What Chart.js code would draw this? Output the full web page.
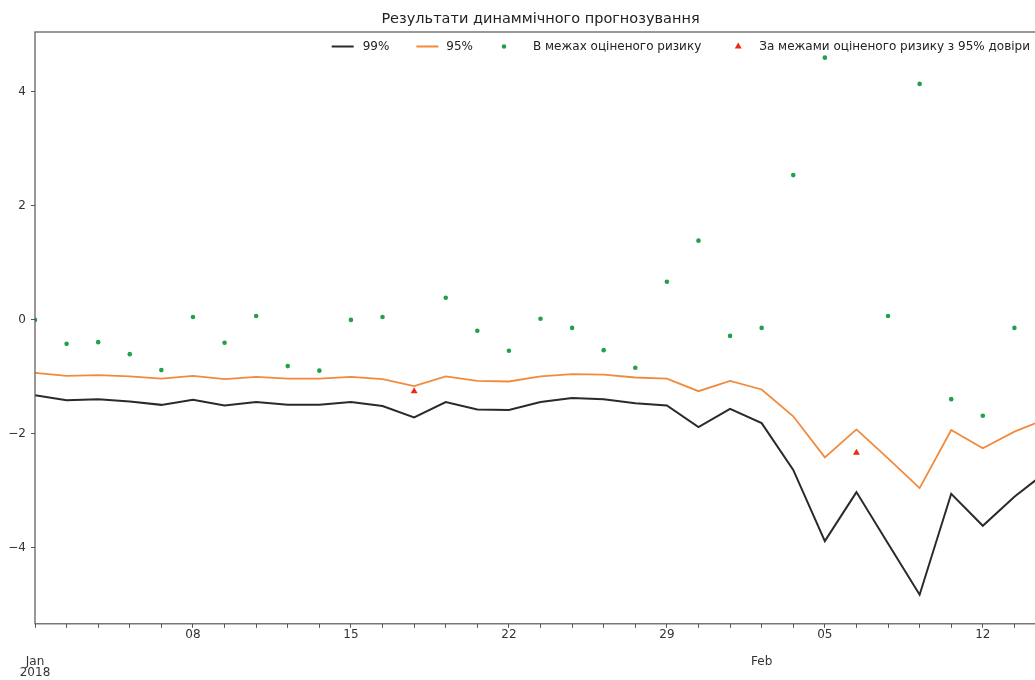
<!DOCTYPE html>
<html>
<head>
<meta charset="utf-8">
<title>Результати динаммічного прогнозування</title>
<script src="https://cdn.jsdelivr.net/npm/chart.js@4/dist/chart.umd.min.js"></script>
<style>
  html, body { margin: 0; padding: 0; background: #fff; overflow: hidden; }
  #wrap { width: 1035px; height: 680px; overflow: hidden; }
  canvas { display: block; }
</style>
</head>
<body>
<div id="wrap"><canvas id="forecast" width="1060" height="680"></canvas></div>
<script>
// business days, 1 Jan - 14 Feb 2018 (the picture is cut just before the last one)
var days = ['2018-01-01', '2018-01-02', '2018-01-03', '2018-01-04', '2018-01-05',
            '2018-01-08', '2018-01-09', '2018-01-10', '2018-01-11', '2018-01-12',
            '2018-01-15', '2018-01-16', '2018-01-17', '2018-01-18', '2018-01-19',
            '2018-01-22', '2018-01-23', '2018-01-24', '2018-01-25', '2018-01-26',
            '2018-01-29', '2018-01-30', '2018-01-31', '2018-02-01', '2018-02-02',
            '2018-02-05', '2018-02-06', '2018-02-07', '2018-02-08', '2018-02-09',
            '2018-02-12', '2018-02-13', '2018-02-14'];

// VaR forecasts
var var99 = [-1.32, -1.41, -1.39, -1.43, -1.49, -1.40, -1.50, -1.44, -1.49, -1.49,
             -1.44, -1.51, -1.71, -1.44, -1.57, -1.58, -1.44, -1.37, -1.39, -1.46,
             -1.50, -1.88, -1.56, -1.81, -2.63, -3.88, -3.02, -3.92, -4.82, -3.05,
             -3.61, -3.10, -2.67];
var var95 = [-0.93, -0.98, -0.97, -0.99, -1.03, -0.98, -1.04, -1.00, -1.03, -1.03,
             -1.00, -1.04, -1.16, -0.99, -1.07, -1.08, -0.99, -0.95, -0.96, -1.01,
             -1.03, -1.25, -1.07, -1.22, -1.69, -2.41, -1.92, -2.43, -2.95, -1.93,
             -2.25, -1.96, -1.74];

// realised returns
var returns = [0.00, -0.42, -0.39, -0.60, -0.88, 0.05, -0.40, 0.07, -0.81, -0.89,
               0.00, 0.05, -1.25, 0.39, -0.19, -0.54, 0.02, -0.14, -0.53, -0.84,
               0.67, 1.39, -0.28, -0.14, 2.54, 4.60, -2.33, 0.07, 4.14, -1.39,
               -1.68, -0.14, null];

var weekTicks = [5, 10, 15, 20, 25, 30];
var weekLabels = ['08', '15', '22', '29', '05', '12'];
var monthTicks = [0, 23];
var monthLabels = [['Jan', '2018'], ['Feb']];
var yTicks = [-4, -2, 0, 2, 4];

var inside = [], outside = [];
returns.forEach(function (v, i) {
  if (v === null) return;
  if (v < var95[i]) outside.push({ x: i, y: v });
  else inside.push({ x: i, y: v });
});

function pts(arr) {
  return arr.map(function (v, i) { return { x: i, y: v }; });
}

Chart.defaults.font.family = '"DejaVu Sans", sans-serif';
Chart.defaults.font.size = 12;
Chart.defaults.color = '#333';

// matplotlib style box round the axes
var spines = {
  id: 'spines',
  afterDatasetsDraw: function (chart) {
    var a = chart.chartArea, ctx = chart.ctx;
    ctx.save();
    ctx.strokeStyle = '#555';
    ctx.lineWidth = 1.2;
    ctx.strokeRect(a.left, a.top, a.right - a.left, a.bottom - a.top);
    ctx.restore();
  }
};

// legend sits inside the axes, top right, no frame
var mplLegend = {
  id: 'mplLegend',
  afterDraw: function (chart) {
    var ctx = chart.ctx, a = chart.chartArea, ds = chart.data.datasets;
    ctx.save();
    ctx.font = '12px "DejaVu Sans"';
    ctx.textBaseline = 'middle';
    var y = a.top + 14.5;
    var w = ds.map(function (d) { return ctx.measureText(d.label).width; });

    var t4 = a.right - 16 - w[3];
    var triX = t4 - 21;
    var t3 = triX - 37 - w[2];
    var dotX = t3 - 29;
    var t2 = dotX - 31 - w[1];
    var t1 = t2 - 30 - 27 - w[0];

    ctx.lineWidth = 2;
    ctx.strokeStyle = ds[0].borderColor;
    ctx.beginPath(); ctx.moveTo(t1 - 31, y); ctx.lineTo(t1 - 9, y); ctx.stroke();
    ctx.strokeStyle = ds[1].borderColor;
    ctx.beginPath(); ctx.moveTo(t2 - 30, y); ctx.lineTo(t2 - 8, y); ctx.stroke();

    ctx.fillStyle = ds[2].backgroundColor;
    ctx.beginPath(); ctx.arc(dotX, y, 2.3, 0, Math.PI * 2); ctx.fill();

    ctx.fillStyle = ds[3].backgroundColor;
    ctx.beginPath();
    ctx.moveTo(triX, y - 4);
    ctx.lineTo(triX + 3.5, y + 2);
    ctx.lineTo(triX - 3.5, y + 2);
    ctx.closePath(); ctx.fill();

    ctx.fillStyle = '#222';
    [t1, t2, t3, t4].forEach(function (tx, i) { ctx.fillText(ds[i].label, tx, y); });
    ctx.restore();
  }
};

new Chart(document.getElementById('forecast'), {
  type: 'scatter',
  data: {
    datasets: [{
      label: '99%',
      data: pts(var99),
      showLine: true,
      borderColor: '#2a2a2a',
      borderWidth: 2,
      pointRadius: 0,
      order: 2
    }, {
      label: '95%',
      data: pts(var95),
      showLine: true,
      borderColor: '#f28a3c',
      borderWidth: 1.8,
      pointRadius: 0,
      order: 1
    }, {
      label: 'В межах оціненого ризику',
      data: inside,
      backgroundColor: '#22a04a',
      pointStyle: 'circle',
      pointRadius: 2.3,
      pointBorderWidth: 0,
      order: 0
    }, {
      label: 'За межами оціненого ризику з 95% довіри',
      data: outside,
      backgroundColor: '#ee2a15',
      pointStyle: 'triangle',
      pointRadius: 4,
      pointBorderWidth: 0,
      order: 0
    }]
  },
  options: {
    responsive: false,
    animation: false,
    events: [],
    layout: { padding: { left: 0, right: 14, top: 0, bottom: 0 } },
    plugins: {
      legend: { display: false },
      tooltip: { enabled: false },
      title: {
        display: true,
        fullSize: false,
        text: 'Результати динаммічного прогнозування',
        color: '#222',
        font: { size: 14.5, weight: 'normal' },
        padding: { top: 10.3, bottom: 4.3 }
      }
    },
    scales: {
      x: {
        type: 'linear',
        min: 0,
        max: days.length - 1,
        border: { display: false },
        grid: { display: true, drawOnChartArea: false, tickLength: 4, tickColor: '#555' },
        afterBuildTicks: function (scale) {
          scale.ticks = days.map(function (d, i) { return { value: i }; });
        },
        ticks: {
          autoSkip: false,
          maxRotation: 0,
          padding: 0,
          color: '#333',
          callback: function (value) {
            var k = weekTicks.indexOf(value);
            return k >= 0 ? weekLabels[k] : '';
          }
        }
      },
      x2: {
        type: 'linear',
        position: 'bottom',
        min: 0,
        max: days.length - 1,
        border: { display: false },
        grid: { display: true, drawOnChartArea: false, tickLength: 13, tickColor: 'rgba(0,0,0,0)' },
        afterBuildTicks: function (scale) {
          scale.ticks = monthTicks.map(function (v) { return { value: v }; });
        },
        ticks: {
          autoSkip: false,
          maxRotation: 0,
          padding: 1,
          color: '#333',
          font: { lineHeight: 0.95 },
          callback: function (value, index) { return monthLabels[index]; }
        }
      },
      y: {
        min: -5.33,
        max: 5.05,
        border: { display: false },
        grid: { display: true, drawOnChartArea: false, tickLength: 4, tickColor: '#555' },
        afterBuildTicks: function (scale) {
          scale.ticks = yTicks.map(function (v) { return { value: v }; });
        },
        afterFit: function (scale) { scale.width = 35; },
        ticks: {
          padding: 5,
          color: '#333',
          callback: function (value) {
            return value < 0 ? '\u2212' + Math.abs(value) : String(value);
          }
        }
      }
    }
  },
  plugins: [spines, mplLegend]
});
</script>
</body>
</html>
